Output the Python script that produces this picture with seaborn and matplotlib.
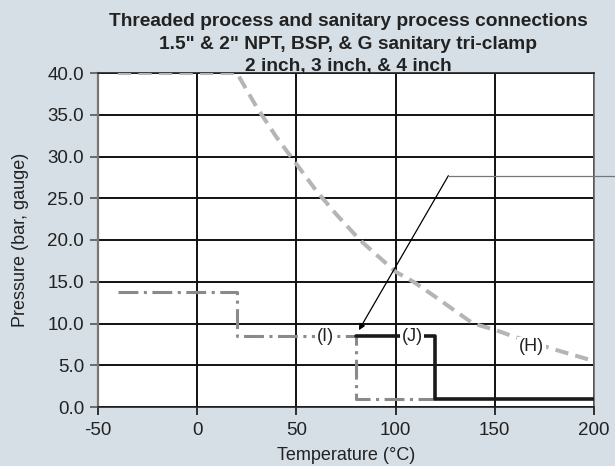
import matplotlib
matplotlib.use("Agg")
import matplotlib.pyplot as plt
import numpy as np
import pandas as pd
import seaborn as sns

# curve (H): threaded / sanitary limit
h_temp = [-40, 20, 30, 40, 50, 60, 70, 82, 90, 100, 109, 120, 139, 150, 160, 180, 200]
h_pres = [40.0, 40.0, 35.9, 32.3, 29.1, 25.9, 23.1, 20.0, 18.3, 16.2, 15.0, 13.2, 10.0, 9.25, 8.4, 6.9, 5.5]

# curve (I): dash-dot step
i_temp = [-40, 20, 20, 80, 80, 120]
i_pres = [13.8, 13.8, 8.5, 8.5, 1.0, 1.0]

# curve (J): solid step
j_temp = [80, 120, 120, 200]
j_pres = [8.5, 8.5, 1.0, 1.0]

xticks = [-50, 0, 50, 100, 150, 200]
yticks = [0, 5, 10, 15, 20, 25, 30, 35, 40]

title_lines = ["Threaded process and sanitary process connections",
               "1.5\" & 2\" NPT, BSP, & G sanitary tri-clamp",
               "2 inch, 3 inch, & 4 inch"]

bg = "#d6dfe6"
sns.set_style("white")
plt.rcParams["font.family"] = ["Liberation Sans", "DejaVu Sans"]

W, H = 615, 466
fig = plt.figure(figsize=(W / 100, H / 100), dpi=100, facecolor=bg)
ax = fig.add_axes([98 / W, 1 - 407 / H, 496 / W, 334 / H])
ax.set_facecolor("white")

df_h = pd.DataFrame({"t": h_temp, "p": h_pres})
df_i = pd.DataFrame({"t": i_temp, "p": i_pres})
df_j = pd.DataFrame({"t": j_temp, "p": j_pres})

sns.lineplot(data=df_h, x="t", y="p", ax=ax, sort=False, estimator=None,
             color="#b5b5b5", lw=2.9, zorder=3)
ax.lines[-1].set_dashes([3.3, 1.8])
sns.lineplot(data=df_i, x="t", y="p", ax=ax, sort=False, estimator=None,
             color="#8a8a8a", lw=2.2, zorder=4)
ax.lines[-1].set_dashes([6.5, 1.8, 1, 1.8])
sns.lineplot(data=df_j, x="t", y="p", ax=ax, sort=False, estimator=None,
             color="#1a1a1a", lw=2.6, zorder=5)

lbl = dict(fontsize=13, ha="center", va="center", zorder=6, color="#222222",
           bbox=dict(facecolor="white", edgecolor="none", pad=1.0))
ax.text(64.5, 8.5, "(I)", **lbl)
ax.text(108.5, 8.5, "(J)", **lbl)
ax.text(168.5, 7.2, "(H)", **lbl)

# leader line
ax.annotate("", xy=(81.5, 9.2), xytext=(126.6, 27.7),
            arrowprops=dict(arrowstyle="-|>", color="black", lw=0.9,
                            mutation_scale=9, shrinkA=0, shrinkB=0), zorder=7)
ax.plot([126.6, 212], [27.7, 27.7], color="#777777", lw=0.9, clip_on=False, zorder=7)

ax.set_xlim(-50, 200)
ax.set_ylim(0, 40)
ax.set_xticks(xticks)
ax.set_yticks(yticks)
ax.set_xticklabels([str(v) for v in xticks])
ax.set_yticklabels([f"{v:.1f}" for v in yticks])
ax.grid(True, color="#111111", lw=1.4)
ax.tick_params(axis="both", direction="out", length=6, width=1.2,
               labelsize=13.5, color="#111111", labelcolor="#222222", pad=5,
               left=True, bottom=True)
ax.tick_params(axis="y", color="#555555", pad=4)
for s in ["top", "right", "bottom"]:
    ax.spines[s].set_color("#222222")
    ax.spines[s].set_linewidth(1.2)
ax.spines["left"].set_color("#777777")
ax.spines["left"].set_linewidth(1.6)
ax.spines["right"].set_color("#666666")

ax.set_xlabel("Temperature (°C)", fontsize=13, color="#222222")
ax.set_ylabel("Pressure (bar, gauge)", fontsize=13, color="#222222")
ax.xaxis.label.set_va("center")
ax.yaxis.label.set_va("center")
ax.xaxis.set_label_coords(0.5, (407 - 455) / 334)
ax.yaxis.set_label_coords((20 - 98) / 496, 0.5)

for k, line in enumerate(title_lines):
    fig.text(348 / W, 1 - (21.7 + 22.5 * k) / H, line, ha="center", va="center",
             fontsize=13.8, fontweight="bold", color="#222222")

fig.savefig("out.png", dpi=100, facecolor=bg)
